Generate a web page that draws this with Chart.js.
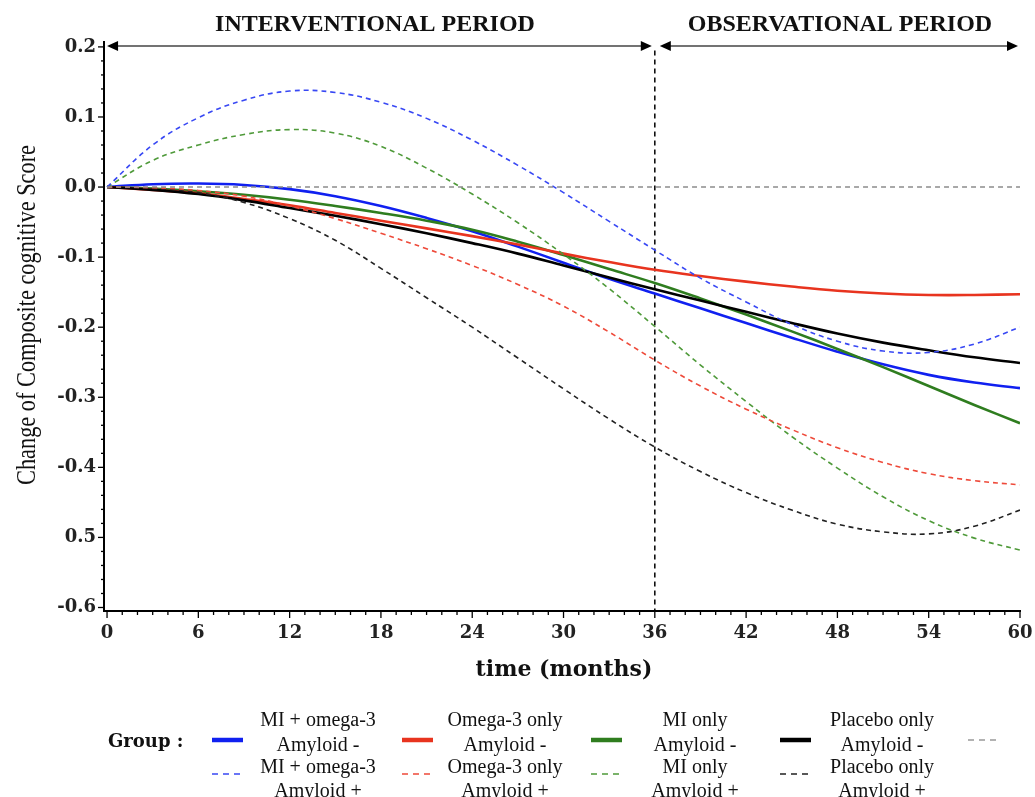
<!DOCTYPE html>
<html lang="en">
<head>
    <meta charset="UTF-8" />
    <title>Change of Composite cognitive Score</title>
    <script src="https://cdn.jsdelivr.net/npm/chart.js"></script>
    <style>
        body { margin: 0; background: #fff; }
        #wrap { width: 1035px; height: 797px; position: relative; }
    </style>
</head>
<body>
    <div id="wrap"><canvas id="chart"></canvas></div>

    <script>
        // time axis (months) and the read-off curves
        const months = [0, 3, 6, 9, 12, 15, 18, 21, 24, 27, 30, 33, 36, 39, 42, 45, 48, 51, 54, 57, 60];

        const miOmegaNeg  = [0, 0.004, 0.005, 0.003, -0.003, -0.013, -0.027, -0.044, -0.063, -0.085, -0.108, -0.131, -0.152, -0.173, -0.194, -0.215, -0.235, -0.253, -0.268, -0.279, -0.287];
        const omegaNeg    = [0, -0.004, -0.009, -0.017, -0.026, -0.037, -0.048, -0.059, -0.070, -0.082, -0.095, -0.107, -0.118, -0.127, -0.135, -0.142, -0.148, -0.152, -0.154, -0.154, -0.153];
        const miNeg       = [0, -0.002, -0.006, -0.011, -0.018, -0.027, -0.037, -0.048, -0.061, -0.078, -0.097, -0.117, -0.137, -0.159, -0.182, -0.206, -0.231, -0.257, -0.284, -0.311, -0.337];
        const placeboNeg  = [0, -0.004, -0.010, -0.019, -0.030, -0.041, -0.053, -0.066, -0.080, -0.095, -0.112, -0.129, -0.146, -0.162, -0.178, -0.194, -0.209, -0.222, -0.233, -0.243, -0.251];

        const miOmegaPos  = [0, 0.060, 0.099, 0.124, 0.137, 0.135, 0.121, 0.098, 0.067, 0.031, -0.008, -0.049, -0.090, -0.130, -0.164, -0.196, -0.220, -0.234, -0.236, -0.224, -0.200];
        const omegaPos    = [0, -0.001, -0.005, -0.013, -0.027, -0.045, -0.066, -0.088, -0.112, -0.139, -0.170, -0.207, -0.247, -0.284, -0.317, -0.346, -0.372, -0.393, -0.409, -0.419, -0.425];
        const miPos       = [0, 0.038, 0.060, 0.075, 0.082, 0.077, 0.058, 0.027, -0.010, -0.051, -0.096, -0.145, -0.199, -0.254, -0.306, -0.356, -0.401, -0.442, -0.476, -0.501, -0.518];
        const placeboPos  = [0, -0.002, -0.008, -0.022, -0.045, -0.076, -0.116, -0.158, -0.200, -0.244, -0.288, -0.331, -0.371, -0.406, -0.436, -0.461, -0.481, -0.492, -0.495, -0.484, -0.461];

        const refMonths = [0, 60];
        const refLine = [0, 0];

        const yTickLabels = ['0.2', '0.1', '0.0', '-0.1', '-0.2', '-0.3', '-0.4', '0.5', '-0.6'];
        const xTickLabels = ['0', '6', '12', '18', '24', '30', '36', '42', '48', '54', '60'];

        const groupNames = ['MI + omega-3', 'Omega-3 only', 'MI only', 'Placebo only'];
        const solidColors = ['#1020f0', '#e8341f', '#2f7d1f', '#000000'];
        const dashColors = ['#3848f4', '#ee4a3a', '#4f9a3a', '#222222'];

        const toPoints = (xs, ys) => xs.map((x, i) => ({ x: x, y: ys[i] }));

        function solid(label, values, color) {
            return { label, data: toPoints(months, values), borderColor: color, borderWidth: 2.6, pointRadius: 0, tension: 0.4, fill: false };
        }
        function dashed(label, values, color) {
            return { label, data: toPoints(months, values), borderColor: color, borderWidth: 1.6, borderDash: [5, 4], pointRadius: 0, tension: 0.4, fill: false };
        }

        const serif = '"DejaVu Serif", serif';
        const times = '"Liberation Serif", serif';

        function arrow(ctx, x1, x2, y) {
            ctx.save();
            ctx.strokeStyle = '#444';
            ctx.lineWidth = 1.5;
            ctx.beginPath();
            ctx.moveTo(x1 + 6, y);
            ctx.lineTo(x2 - 6, y);
            ctx.stroke();
            ctx.fillStyle = '#000';
            ctx.beginPath();
            ctx.moveTo(x1, y); ctx.lineTo(x1 + 11, y - 5); ctx.lineTo(x1 + 11, y + 5); ctx.closePath();
            ctx.fill();
            ctx.beginPath();
            ctx.moveTo(x2, y); ctx.lineTo(x2 - 11, y - 5); ctx.lineTo(x2 - 11, y + 5); ctx.closePath();
            ctx.fill();
            ctx.restore();
        }

        const decor = {
            id: 'decor',
            beforeDatasetsDraw(chart) {
                const ctx = chart.ctx;
                const xs = chart.scales.x, ys = chart.scales.y;
                const x36 = xs.getPixelForValue(36);
                ctx.save();
                ctx.strokeStyle = '#000';
                ctx.lineWidth = 1.5;
                ctx.setLineDash([5, 4]);
                ctx.beginPath();
                ctx.moveTo(x36, ys.getPixelForValue(0.195));
                ctx.lineTo(x36, chart.chartArea.bottom);
                ctx.stroke();
                ctx.restore();
            },
            afterDraw(chart) {
                const ctx = chart.ctx;
                const xs = chart.scales.x, ys = chart.scales.y;
                const area = chart.chartArea;

                // tick marks, long at labelled values
                ctx.save();
                ctx.strokeStyle = '#000';
                ctx.lineWidth = 1.3;
                xs.ticks.forEach(t => {
                    const px = xs.getPixelForValue(t.value);
                    const len = t.value % 6 === 0 ? 7 : 4;
                    ctx.beginPath();
                    ctx.moveTo(px, area.bottom);
                    ctx.lineTo(px, area.bottom + len);
                    ctx.stroke();
                });
                ys.ticks.forEach(t => {
                    const py = ys.getPixelForValue(t.value);
                    const major = Math.abs(Math.round(t.value * 10) - t.value * 10) < 1e-6;
                    const len = major ? 6 : 3;
                    ctx.beginPath();
                    ctx.moveTo(area.left, py);
                    ctx.lineTo(area.left - len, py);
                    ctx.stroke();
                });
                ctx.restore();

                // period headers
                const x0 = xs.getPixelForValue(0), x36 = xs.getPixelForValue(36), x60 = xs.getPixelForValue(60);
                const yArr = ys.getPixelForValue(0.2) - 1;
                arrow(ctx, x0, x36 - 3, yArr);
                arrow(ctx, x36 + 5, x60 - 2, yArr);
                ctx.save();
                ctx.fillStyle = '#111';
                ctx.font = 'bold 24px ' + times;
                ctx.textAlign = 'center';
                ctx.textBaseline = 'middle';
                ctx.fillText('INTERVENTIONAL PERIOD', 375, 25);
                ctx.fillText('OBSERVATIONAL PERIOD', 840, 25);
                ctx.restore();

                // axis titles
                ctx.save();
                ctx.fillStyle = '#111';
                ctx.font = 'bold 22px ' + serif;
                ctx.textAlign = 'center';
                ctx.textBaseline = 'middle';
                ctx.fillText('time (months)', 564, 670);
                ctx.restore();

                ctx.save();
                ctx.fillStyle = '#111';
                ctx.font = '27px ' + times;
                ctx.textAlign = 'center';
                ctx.textBaseline = 'middle';
                const title = 'Change of Composite cognitive Score';
                const w = ctx.measureText(title).width;
                ctx.translate(28, 315);
                ctx.rotate(-Math.PI / 2);
                ctx.scale(340 / w, 1);
                ctx.fillText(title, 0, 0);
                ctx.restore();

                // legend
                ctx.save();
                ctx.fillStyle = '#111';
                ctx.font = 'bold 18px ' + serif;
                ctx.textAlign = 'left';
                ctx.textBaseline = 'middle';
                ctx.fillText('Group :', 108, 742);
                const sampleX = [212, 402, 591, 780];
                const labelX = [318, 505, 695, 882];
                ctx.font = '20px ' + times;
                ctx.textAlign = 'center';
                groupNames.forEach((name, i) => {
                    ctx.strokeStyle = solidColors[i];
                    ctx.lineWidth = 4.5;
                    ctx.setLineDash([]);
                    ctx.beginPath();
                    ctx.moveTo(sampleX[i], 740);
                    ctx.lineTo(sampleX[i] + 31, 740);
                    ctx.stroke();
                    ctx.strokeStyle = dashColors[i];
                    ctx.lineWidth = 1.6;
                    ctx.setLineDash([6, 5]);
                    ctx.beginPath();
                    ctx.moveTo(sampleX[i], 774);
                    ctx.lineTo(sampleX[i] + 28, 774);
                    ctx.stroke();
                    ctx.fillText(name, labelX[i], 721);
                    ctx.fillText('Amyloid -', labelX[i], 746);
                    ctx.fillText(name, labelX[i], 768);
                    ctx.fillText('Amyloid +', labelX[i], 792);
                });
                ctx.strokeStyle = '#999';
                ctx.lineWidth = 1.4;
                ctx.setLineDash([6, 5]);
                ctx.beginPath();
                ctx.moveTo(968, 740);
                ctx.lineTo(996, 740);
                ctx.stroke();
                ctx.restore();
            }
        };

        const ctx = document.getElementById('chart').getContext('2d');
        new Chart(ctx, {
            type: 'line',
            data: {
                datasets: [
                    { label: 'reference', data: toPoints(refMonths, refLine), borderColor: '#8c8c8c', borderWidth: 1.4, borderDash: [5, 4], pointRadius: 0, fill: false },
                    dashed('MI + omega-3 Amyloid +', miOmegaPos, dashColors[0]),
                    dashed('Omega-3 only Amyloid +', omegaPos, dashColors[1]),
                    dashed('MI only Amyloid +', miPos, dashColors[2]),
                    dashed('Placebo only Amyloid +', placeboPos, dashColors[3]),
                    solid('Placebo only Amyloid -', placeboNeg, solidColors[3]),
                    solid('Omega-3 only Amyloid -', omegaNeg, solidColors[1]),
                    solid('MI only Amyloid -', miNeg, solidColors[2]),
                    solid('MI + omega-3 Amyloid -', miOmegaNeg, solidColors[0])
                ]
            },
            options: {
                responsive: true,
                maintainAspectRatio: false,
                animation: false,
                layout: { padding: { top: 42, right: 15, left: 0, bottom: 0 } },
                plugins: {
                    legend: { display: false },
                    tooltip: { enabled: false }
                },
                scales: {
                    x: {
                        type: 'linear',
                        min: -0.2,
                        max: 60,
                        afterFit: s => { s.height = 186; s.paddingLeft = 0; s.paddingRight = 0; },
                        grid: { display: false, drawTicks: false },
                        border: { display: true, color: '#000', width: 2 },
                        ticks: {
                            stepSize: 1,
                            includeBounds: false,
                            autoSkip: false,
                            maxRotation: 0,
                            padding: 12,
                            color: '#222',
                            font: { family: serif, size: 18, weight: 'bold' },
                            callback: v => (v % 6 === 0 ? xTickLabels[v / 6] : '')
                        }
                    },
                    y: {
                        min: -0.605,
                        max: 0.207,
                        afterFit: s => { s.width = 104; s.paddingTop = 0; s.paddingBottom = 0; },
                        grid: { display: false, drawTicks: false },
                        border: { display: true, color: '#000', width: 2 },
                        ticks: {
                            stepSize: 0.02,
                            includeBounds: false,
                            autoSkip: false,
                            padding: 8,
                            color: '#222',
                            font: { family: serif, size: 18, weight: 'bold' },
                            callback: v => {
                                const k = Math.round((0.2 - v) * 10);
                                return Math.abs((0.2 - v) * 10 - k) < 1e-6 ? yTickLabels[k] : '';
                            }
                        }
                    }
                }
            },
            plugins: [decor]
        });
    </script>
</body>
</html>
